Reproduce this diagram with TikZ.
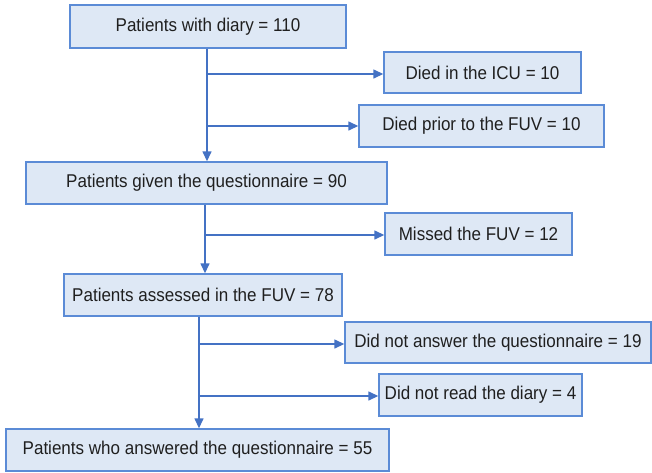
\documentclass[tikz,border=0pt]{standalone}
\usepackage{fontspec}
\setmainfont[FakeStretch=0.92]{Liberation Sans}
\usetikzlibrary{arrows.meta}
\definecolor{boxfill}{HTML}{DEE8F5}
\definecolor{boxline}{HTML}{5B8BD6}
\definecolor{arrcol}{HTML}{4472C4}
\begin{document}
\begin{tikzpicture}[x=1pt,y=-1pt,
  box/.style={draw=boxline, fill=boxfill, line width=1.4pt, inner sep=0pt,
    font=\fontsize{18.5}{22}\selectfont, text=black!88},
  flow/.style={draw=arrcol, line width=1.4pt, -{Triangle[length=10pt,width=9pt]}}]
\useasboundingbox (0,0) rectangle (652,472);
\node[box, minimum width=276pt, minimum height=43pt] (b1) at (208,26.5) {Patients with diary = 110};
\node[box, minimum width=197pt, minimum height=41pt] (b2) at (482.5,72.5) {Died in the ICU = 10};
\node[box, minimum width=245pt, minimum height=42pt] (b3) at (481.5,126) {Died prior to the FUV = 10};
\node[box, minimum width=361pt, minimum height=42pt] (b4) at (206.5,183) {Patients given the questionnaire = 90};
\node[box, minimum width=187pt, minimum height=42pt] (b5) at (478.5,234) {Missed the FUV = 12};
\node[box, minimum width=278pt, minimum height=42pt] (b6) at (203,295) {Patients assessed in the FUV = 78};
\node[box, minimum width=306pt, minimum height=41pt] (b7) at (498,342.5) {Did not answer the questionnaire = 19};
\node[box, minimum width=203pt, minimum height=42pt] (b8) at (480.5,395) {Did not read the diary = 4};
\node[box, minimum width=383pt, minimum height=42pt] (b9) at (197.5,450) {Patients who answered the questionnaire = 55};
\coordinate (j1) at (207,74);
\coordinate (j2) at (207,126);
\coordinate (j3) at (205,235);
\coordinate (j4) at (199,344);
\coordinate (j5) at (199,396);
\draw[flow] (b1.south -| j1) -- (b4.north -| j1);
\draw[flow] (j1) -- (b2.west |- j1);
\draw[flow] (j2) -- (b3.west |- j2);
\draw[flow] (b4.south -| j3) -- (b6.north -| j3);
\draw[flow] (j3) -- (b5.west |- j3);
\draw[flow] (b6.south -| j4) -- (b9.north -| j4);
\draw[flow] (j4) -- (b7.west |- j4);
\draw[flow] (j5) -- (b8.west |- j5);
\end{tikzpicture}
\end{document}
